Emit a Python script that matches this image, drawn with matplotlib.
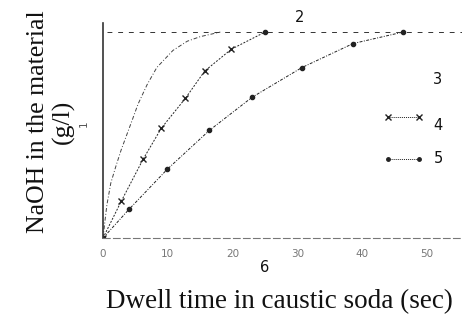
import matplotlib
matplotlib.use("Agg")
import matplotlib.pyplot as plt

# values (time in sec, NaOH in arbitrary g/l scale)
saturation = 1.8

curve1_t = [0, 0.3, 0.6, 1.2, 2.0, 2.8, 4.5, 5.4, 6.8, 8.3, 10.8, 13.0, 15.0, 18.1]
curve1_c = [0, 0.15, 0.29, 0.48, 0.63, 0.77, 1.03, 1.17, 1.34, 1.49, 1.64, 1.72, 1.76, 1.8]

curve2_t = [0, 2.8, 6.2, 9.0, 12.7, 15.7, 19.8, 25.0]
curve2_c = [0, 0.32, 0.69, 0.96, 1.22, 1.46, 1.65, 1.8]

curve3_t = [0, 4.0, 9.9, 16.4, 23.0, 30.7, 38.6, 46.3]
curve3_c = [0, 0.25, 0.60, 0.94, 1.23, 1.49, 1.70, 1.8]

xticks = [0, 10, 20, 30, 40, 50]
yticks = [1]

fig = plt.figure(figsize=(4.62, 3.21), dpi=100)
ax = fig.add_axes([0.223, 0.2586, 0.777, 0.67])
ax.set_xlim(0, 55.4)
ax.set_ylim(0, 1.88)

ink = "#222222"
ax.plot(curve1_t, curve1_c, color="#444444", lw=0.7, ls=(0, (4, 2, 1, 2)))
ax.plot(curve2_t[:-1], curve2_c[:-1], color=ink, lw=0.7, ls=(0, (2, 1.5)),
        marker="x", ms=4, mew=1.0)
ax.plot(curve2_t[-2:], curve2_c[-2:], color=ink, lw=0.7, ls=(0, (2, 1.5)))
ax.plot(curve2_t[-1:], curve2_c[-1:], color=ink, marker="o", ms=3, ls="none")
ax.plot(curve3_t, curve3_c, color=ink, lw=0.7, ls=(0, (3, 1.5, 1, 1.5)),
        marker="o", ms=3)

# saturation level
ax.axhline(saturation, xmin=0.01, color="#333333", lw=0.7, ls=(0, (5, 6)))

ax.spines["top"].set_visible(False)
ax.spines["right"].set_visible(False)
ax.spines["left"].set_linewidth(1.2)
ax.spines["left"].set_color("#333333")
ax.spines["bottom"].set_linestyle((0, (6, 3)))
ax.spines["bottom"].set_linewidth(0.8)
ax.spines["bottom"].set_color("#777777")

ax.set_xticks(xticks)
ax.set_yticks(yticks)
ax.tick_params(length=0, labelsize=7.5, labelcolor="#777777", pad=8)
ax.tick_params(axis="y", pad=10, labelcolor="#555555")
for lab in ax.get_yticklabels():
    lab.set_rotation(90)
    lab.set_va("center")

# legend-like keys
ax.plot([44.0, 48.7], [1.06, 1.06], color=ink, lw=0.7, ls=(0, (1, 1)),
        marker="x", ms=4, mew=1.0, clip_on=False)
ax.plot([44.0, 48.7], [0.69, 0.69], color=ink, lw=0.7, ls=(0, (1, 1)),
        marker="o", ms=2.5, clip_on=False)

numfont = dict(family="DejaVu Sans", fontsize=10.5, color="#111111",
               ha="center", va="center")
fig.text(300 / 462, 1 - 17 / 321, "2", **numfont)
fig.text(437 / 462, 1 - 80 / 321, "3", **numfont)
fig.text(438 / 462, 1 - 126 / 321, "4", **numfont)
fig.text(438 / 462, 1 - 159 / 321, "5", **numfont)
fig.text(265 / 462, 1 - 268 / 321, "6", **numfont)

serif = dict(family="Liberation Serif", color="#111111")
fig.text(106 / 462, 1 - 302 / 321, "Dwell time in caustic soda (sec)",
         ha="left", va="center", fontsize=19.5, **serif)
fig.text(38 / 462, 1 - 122 / 321, "NaOH in the material", rotation=90,
         ha="center", va="center", fontsize=18.5, **serif)
fig.text(63 / 462, 1 - 122 / 321, "(g/l)", rotation=90,
         ha="center", va="center", fontsize=18.5, **serif)

fig.savefig("out.png", dpi=100)
